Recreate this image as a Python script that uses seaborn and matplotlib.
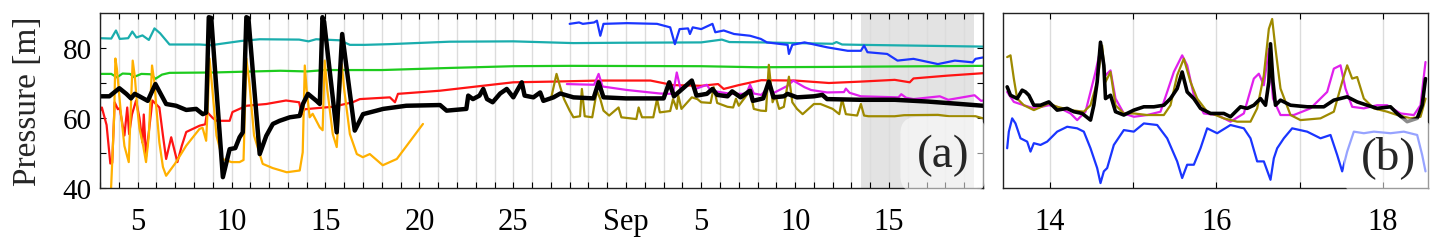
import matplotlib
matplotlib.use("Agg")
import matplotlib.pyplot as plt
import seaborn as sns

# x axis of panel (a) in days: Aug d -> d, Sep d -> 30 + d (spacing as drawn)
cyan_x = [3.0, 3.6, 3.85, 4.05, 4.5, 4.72, 4.94, 5.26, 5.6, 5.9, 6.2, 6.7, 8.3, 8.9, 10.5,
          11.5, 13.6, 14.1, 14.5, 15.76, 16.3, 17.1, 18.4, 21.6, 25.0, 28.2, 30.7, 35.0,
          36.1, 36.5, 38.2, 42.0, 42.2, 42.5, 43.5, 50.0]
cyan_y = [82.8, 82.7, 85.0, 82.6, 82.8, 84.7, 83.0, 83.6, 82.3, 85.6, 84.2, 81.0, 81.0, 80.8, 82.0,
          82.5, 82.4, 81.9, 82.5, 82.2, 80.9, 80.9, 81.1, 81.8, 81.9, 81.4, 81.5, 81.6,
          82.4, 81.7, 81.6, 81.2, 81.7, 81.0, 80.9, 80.4]

green_x = [3.0, 3.6, 3.9, 4.2, 4.6, 4.8, 5.2, 5.7, 5.95, 6.3, 6.7, 9.0, 12.6, 14.0, 15.0,
           18.0, 21.6, 25.0, 28.0, 35.0, 38.0, 42.0, 50.0]
green_y = [72.6, 72.6, 71.6, 72.7, 72.6, 71.7, 72.6, 72.5, 71.2, 72.4, 72.9, 73.0, 73.5, 73.3, 73.7,
           73.7, 74.3, 74.8, 74.9, 74.8, 74.5, 74.6, 74.9]

red_x = [3.0, 3.1, 3.35, 3.55, 3.65, 3.78, 3.95, 4.05, 4.3, 4.45, 4.55, 4.7, 4.92, 5.1, 5.26,
         5.33, 5.45, 5.79, 6.16, 6.35, 6.52, 6.79, 7.12, 7.35, 7.59, 8.3, 8.6, 8.7, 9.0, 9.2,
         9.9, 10.05, 10.8, 11.85, 12.9, 13.6, 13.74, 13.9, 14.5, 15.4, 16.45, 16.83, 18.43,
         18.7, 18.86, 21.1, 23.2, 25.0, 27.1, 29.6, 32.3, 33.5, 35.0, 35.9, 36.2, 37.0, 38.2,
         40.0, 41.8, 43.5, 45.3, 46.1, 46.3, 48.1, 50.0]
red_y = [62.0, 63.0, 58.0, 47.0, 47.2, 64.5, 62.5, 62.8, 55.0, 63.0, 55.4, 61.0, 65.0, 60.0, 53.0,
         61.0, 49.0, 65.0, 63.0, 55.0, 48.3, 54.5, 47.4, 52.0, 56.0, 57.8, 58.2, 61.7, 60.0, 59.2,
         59.2, 61.7, 63.5, 64.0, 65.0, 64.5, 61.0, 62.5, 62.8, 63.2, 64.5, 65.4, 65.9,
         64.5, 66.9, 67.8, 69.1, 70.2, 70.4, 70.7, 70.7, 69.4, 69.2, 69.7, 68.3, 69.4, 70.8,
         70.7, 70.0, 70.4, 70.9, 70.2, 71.3, 72.1, 72.8]

orange_x = [3.59, 3.75, 3.82, 3.9, 4.1, 4.3, 4.53, 4.62, 4.74, 4.85, 4.99, 5.1, 5.3, 5.45, 5.6,
            5.77, 5.9, 5.99, 6.16, 6.35, 6.52, 7.0, 7.59, 8.3, 8.46, 8.65, 8.75, 8.83, 8.95,
            9.2, 9.52, 10.0, 10.43, 10.64, 10.79, 10.95, 11.2, 11.66, 12.19, 12.94, 13.63,
            13.79, 13.9, 14.0, 14.16, 14.32, 14.7, 14.85, 14.96, 15.1, 15.39, 15.6, 15.87,
            16.0, 16.3, 16.67, 16.99, 17.36, 18.05, 18.8, 20.19]
orange_y = [40.0, 60.0, 77.0, 74.0, 62.0, 52.0, 47.4, 60.0, 76.4, 72.0, 62.6, 57.0, 52.0, 47.4, 55.0,
            75.0, 70.0, 63.5, 53.0, 46.0, 43.5, 47.0, 52.1, 56.9, 57.2, 53.5, 65.0, 77.0, 70.0,
            55.0, 48.3, 47.4, 47.4, 48.0, 77.0, 70.0, 55.0, 46.9, 45.7, 44.5, 45.0,
            50.2, 75.0, 68.0, 60.2, 61.2, 57.3, 56.5, 76.4, 68.0, 55.4, 51.7, 75.4,
            68.0, 55.4, 49.7, 48.8, 49.7, 46.5, 48.3, 58.3]

blue_x = [28.0, 28.5, 28.7, 29.3, 29.45, 29.63, 29.8, 31.05, 32.65, 33.35, 33.6, 33.85, 34.3,
          34.4, 34.55, 35.0, 35.6, 35.75, 36.2, 36.75, 37.6, 38.17, 38.5, 39.6, 39.67, 39.85,
          40.5, 41.7, 42.8, 43.5, 43.67, 43.85, 44.9, 45.45, 46.3, 47.6, 48.5, 49.45, 49.6, 50.0]
blue_y = [86.9, 87.3, 86.9, 87.3, 87.8, 83.5, 86.9, 87.1, 86.9, 85.9, 81.1, 85.4, 85.6,
          84.0, 85.9, 85.4, 86.9, 84.5, 85.0, 84.0, 83.5, 82.6, 81.6, 80.9, 78.3, 80.9,
          81.6, 80.2, 79.2, 79.2, 80.7, 78.8, 78.3, 76.4, 76.9, 75.4, 76.4, 75.9, 76.9, 77.3]

magenta_x = [27.85, 28.5, 29.3, 29.54, 29.75, 31.05, 32.8, 33.5, 33.7, 33.9, 34.5, 34.7, 35.3,
             35.5, 36.0, 36.6, 37.4, 37.6, 37.8, 38.2, 38.6, 38.8, 39.6, 39.9, 40.5, 40.85,
             41.7, 42.6, 42.7, 42.9, 43.5, 45.5, 45.65, 45.9, 46.3, 47.7, 48.15, 49.55, 49.9, 50.0]
magenta_y = [69.7, 69.6, 69.5, 72.6, 69.0, 68.0, 67.0, 66.9, 73.0, 68.3, 70.5, 68.3, 69.5,
             67.8, 67.4, 66.9, 66.9, 69.5, 67.0, 66.6, 69.0, 67.0, 69.2, 70.7, 68.8, 68.0,
             67.3, 67.4, 68.4, 67.2, 66.2, 65.9, 66.8, 65.8, 65.4, 66.2, 65.2, 66.5, 64.9, 65.0]

olive_x = [27.0, 27.3, 27.5, 27.7, 28.0, 28.2, 28.55, 28.65, 28.8, 29.2, 29.45, 29.63, 29.8,
           30.1, 30.6, 30.75, 31.55, 31.67, 31.85, 32.45, 32.65, 32.8, 33.35, 33.5, 33.7,
           33.78, 33.95, 34.5, 34.8, 35.0, 35.5, 35.67, 35.85, 36.4, 36.7, 36.85, 37.0, 37.6,
           37.8, 38.17, 38.45, 38.6, 38.8, 38.95, 39.15, 39.4, 39.67, 39.85, 40.1, 40.4, 41.0,
           41.35, 42.0, 42.35, 42.5, 42.7, 43.3, 43.5, 43.67, 43.9, 45.3, 45.8, 47.6, 48.2, 49.6, 50.0]
olive_y = [65.4, 72.6, 68.8, 65.4, 62.1, 60.2, 60.5, 68.3, 60.5, 60.2, 67.8, 65.4, 62.1,
           60.7, 63.0, 60.2, 59.7, 63.0, 60.2, 60.2, 65.4, 61.6, 62.0, 65.4, 62.6,
           66.4, 62.6, 65.9, 65.4, 64.5, 64.3, 68.8, 64.3, 63.2, 63.0, 65.5, 63.5, 67.8,
           62.6, 62.1, 62.0, 75.2, 64.5, 66.4, 62.6, 63.2, 71.8, 64.5, 62.6, 61.1, 64.0,
           64.0, 62.6, 61.1, 65.4, 61.1, 60.7, 64.0, 60.7, 60.5, 60.5, 60.8, 60.9, 60.5, 60.5, 59.9]

black_x = [3.0, 3.5, 4.03, 4.4, 4.65, 4.85, 5.1, 5.54, 5.95, 6.52, 7.05, 7.59, 8.12, 8.47, 8.65,
           8.79, 8.92, 9.54, 9.9, 10.2, 10.43, 10.6, 10.79, 10.9, 11.5, 11.85, 12.2, 12.56,
           13.1, 13.63, 13.8, 14.07, 14.52, 14.7, 14.84, 14.93, 15.6, 15.89, 16.56, 17.0,
           17.72, 18.07, 19.3, 21.1, 21.45, 22.5, 22.6, 22.85, 23.2, 23.4, 23.6, 23.9, 24.3,
           24.65, 25.0, 25.45, 25.6, 26.07, 26.43, 26.6, 27.14, 27.5, 28.2, 29.27, 29.54,
           29.8, 31.0, 33.0, 33.3, 33.55, 34.5, 34.75, 35.3, 35.6, 35.85, 36.4, 36.65, 37.1,
           37.6, 37.75, 38.3, 38.6, 38.85, 39.4, 39.6, 40.1, 41.0, 41.45, 41.7, 43.5, 45.3,
           47.05, 48.8, 50.0]
black_y = [66.2, 66.2, 68.5, 66.9, 65.6, 66.9, 66.2, 64.9, 69.7, 64.0, 63.5, 62.3, 62.6, 61.1, 61.5,
           88.8, 88.6, 43.1, 51.1, 51.4, 54.5, 55.9, 88.8, 88.5, 49.7, 54.9, 58.3, 59.2,
           60.2, 60.6, 64.0, 66.9, 64.9, 64.0, 88.8, 87.5, 55.9, 84.0, 56.4, 61.1,
           62.1, 62.6, 63.5, 63.7, 62.1, 62.6, 66.4, 65.4, 66.4, 68.3, 65.4, 64.5, 67.0,
           68.3, 65.9, 70.2, 66.4, 65.9, 67.3, 64.9, 65.9, 67.0, 65.9, 65.6, 70.2,
           65.9, 65.6, 65.6, 70.2, 66.2, 70.7, 66.4, 66.9, 68.3, 66.6, 66.2, 67.6, 65.9,
           67.8, 64.9, 65.6, 70.4, 65.9, 66.2, 66.9, 65.9, 66.2, 66.6, 65.4, 65.2, 65.2,
           64.7, 64.0, 63.5]

# ticks of panel (a)
a_ticks = [5, 10, 15, 20, 25, 31, 35, 40, 45]
a_labels = ["5", "10", "15", "20", "25", "Sep", "5", "10", "15"]
shade_span = [43.5, 49.5]

# panel (b): days of September, arbitrary vertical units
b_black_x = [13.49, 13.53, 13.61, 13.67, 13.71, 13.75, 13.81, 13.89, 13.99, 14.09, 14.21, 14.29,
             14.39, 14.49, 14.53, 14.57, 14.61, 14.65, 14.67, 14.73, 14.79, 14.89, 15.01, 15.13,
             15.25, 15.37, 15.45, 15.53, 15.59, 15.65, 15.73, 15.81, 15.93, 16.09, 16.17, 16.29,
             16.37, 16.45, 16.53, 16.59, 16.63, 16.65, 16.68, 16.71, 16.77, 16.89, 17.09, 17.29,
             17.41, 17.57, 17.69, 17.81, 17.93, 18.09, 18.17, 18.29, 18.41, 18.47, 18.51]
b_black_y = [57.8, 53.0, 51.1, 55.9, 54.9, 53.0, 47.3, 47.3, 49.2, 44.5, 45.5, 43.6,
             42.6, 38.8, 47.3, 60.6, 83.3, 70.1, 51.1, 53.0, 43.6, 41.7, 44.5, 46.4,
             46.4, 47.3, 51.1, 56.8, 66.3, 54.9, 51.1, 45.5, 42.6, 42.6, 40.7, 46.4,
             45.5, 47.3, 51.1, 47.3, 60.6, 82.4, 60.6, 47.3, 50.2, 47.3, 46.4, 46.4,
             50.2, 52.1, 49.2, 47.3, 45.5, 46.4, 42.6, 37.9, 39.8, 47.3, 62.5]

b_magenta_x = [13.49, 13.57, 13.69, 13.81, 13.99, 14.09, 14.25, 14.33, 14.43, 14.49, 14.55, 14.61,
               14.67, 14.73, 14.79, 14.89, 15.01, 15.17, 15.33, 15.41, 15.49, 15.59, 15.65, 15.73,
               15.85, 16.01, 16.17, 16.33, 16.45, 16.51, 16.57, 16.63, 16.68, 16.77, 16.93, 17.13,
               17.33, 17.41, 17.49, 17.55, 17.63, 17.77, 17.93, 18.05, 18.21, 18.37, 18.45, 18.51]
b_magenta_y = [54.9, 49.2, 47.3, 45.5, 47.3, 46.4, 42.6, 38.8, 43.6, 54.9, 66.3, 79.5,
               64.4, 67.2, 51.1, 42.6, 40.7, 41.7, 43.6, 54.9, 66.3, 75.8, 70.1, 53.0,
               42.6, 41.7, 37.9, 42.6, 62.5, 65.3, 58.7, 79.5, 51.1, 41.7, 41.7, 45.5,
               54.9, 68.2, 70.1, 56.8, 46.4, 45.5, 47.3, 47.3, 42.6, 41.7, 47.3, 72.0]

b_olive_x = [13.49, 13.53, 13.57, 13.61, 13.69, 13.81, 13.99, 14.09, 14.25, 14.41, 14.49, 14.57,
             14.63, 14.67, 14.73, 14.79, 14.89, 15.01, 15.17, 15.37, 15.45, 15.53, 15.61, 15.69,
             15.77, 15.89, 16.09, 16.25, 16.41, 16.49, 16.57, 16.63, 16.67, 16.71, 16.77, 16.89,
             17.01, 17.25, 17.41, 17.51, 17.57, 17.63, 17.69, 17.77, 17.89, 18.05, 18.17, 18.33,
             18.45, 18.51]
b_olive_y = [74.8, 75.8, 62.5, 51.1, 47.3, 44.5, 48.3, 46.4, 44.5, 43.6, 47.3, 60.6,
             81.4, 60.6, 66.3, 47.3, 42.6, 42.6, 41.7, 41.7, 47.3, 64.4, 73.9, 60.6,
             51.1, 43.6, 39.8, 37.9, 37.9, 45.5, 64.4, 90.9, 96.6, 79.5, 56.8, 41.7,
             38.8, 39.8, 43.6, 60.6, 70.1, 62.5, 63.4, 51.1, 45.5, 43.6, 41.7, 39.8,
             40.7, 51.1]

b_blue_x = [13.49, 13.51, 13.55, 13.59, 13.65, 13.73, 13.77, 13.81, 13.89, 13.97, 14.09, 14.21,
            14.33, 14.41, 14.49, 14.57, 14.61, 14.65, 14.69, 14.77, 14.89, 15.01, 15.13, 15.29,
            15.41, 15.53, 15.59, 15.65, 15.73, 15.81, 15.89, 16.01, 16.17, 16.33, 16.41, 16.49,
            16.57, 16.65, 16.69, 16.73, 16.81, 16.91, 17.09, 17.25, 17.37, 17.45, 17.51, 17.57,
            17.65, 17.77, 17.89, 18.09, 18.25, 18.41, 18.47, 18.51]
b_blue_y = [22.7, 32.2, 39.8, 36.9, 28.4, 26.5, 20.8, 25.6, 24.6, 26.5, 32.2, 35.0,
            34.1, 32.2, 22.7, 11.4, 2.8, 9.5, 11.4, 24.6, 33.1, 32.2, 36.9, 36.0,
            28.4, 15.2, 5.7, 13.3, 13.3, 22.7, 34.1, 31.3, 36.0, 34.1, 28.4, 15.2,
            15.2, 4.7, 17.0, 22.7, 28.4, 34.1, 32.2, 28.4, 30.3, 18.9, 9.5, 20.8,
            32.2, 31.3, 32.2, 31.3, 32.2, 30.3, 18.9, 9.5]

b_ticks = [14, 15, 16, 17, 18]
b_labels = ["14", "", "16", "", "18"]

COLORS = {
    "cyan": "#1aadad",
    "green": "#1ecb1e",
    "red": "#ff1414",
    "orange": "#ffb000",
    "blue": "#1a35ff",
    "magenta": "#e020ec",
    "olive": "#9e8a00",
    "black": "#000000",
}

sns.set_style("ticks")
plt.rcParams["font.family"] = ["Liberation Serif", "DejaVu Serif"]
plt.rcParams["axes.linewidth"] = 1.0

fig = plt.figure(figsize=(14.41, 2.51), dpi=100)
ax1 = fig.add_axes([100 / 1441, 62 / 251, 883 / 1441, 175 / 251])
ax2 = fig.add_axes([1003 / 1441, 62 / 251, 425 / 1441, 175 / 251])

# halo behind the panel letters
halo = dict(facecolor="white", edgecolor="none", alpha=0.55, boxstyle="round,pad=0.35")

# ---- panel (a)
ax1.axvspan(shade_span[0], shade_span[1], color="#e3e3e3", lw=0, zorder=0)
for xs, ys, c, lw in [
    (cyan_x, cyan_y, "cyan", 1.6),
    (green_x, green_y, "green", 1.6),
    (red_x, red_y, "red", 1.6),
    (orange_x, orange_y, "orange", 1.6),
    (blue_x, blue_y, "blue", 1.6),
    (magenta_x, magenta_y, "magenta", 1.6),
    (olive_x, olive_y, "olive", 1.6),
    (black_x, black_y, "black", 3.2),
]:
    sns.lineplot(x=xs, y=ys, color=COLORS[c], lw=lw, ax=ax1, estimator=None, sort=False)

ax1.set_xlim(3, 50)
ax1.set_ylim(40, 90)
days = list(range(3, 51))
ax1.set_xticks(days)
ax1.set_xticklabels([a_labels[a_ticks.index(d)] if d in a_ticks else "" for d in days])
ax1.set_yticks([40, 50, 60, 70, 80])
ax1.set_yticklabels(["40", "", "60", "", "80"])
ax1.tick_params(axis="x", direction="in", length=4.5, width=0.8, top=True,
                labelsize=22, pad=14, colors="black")
ax1.tick_params(axis="y", direction="in", length=4.5, width=0.8, right=True,
                labelsize=21, pad=6, colors="black")
ax1.grid(axis="x", color="#dcdcdc", lw=1.0)
ax1.set_axisbelow(True)
ax1.set_ylabel("Pressure [m]", fontsize=24)
ax1.yaxis.set_label_coords(-0.064, 0.5)
ax1.text(0.955, 0.19, "(a)", transform=ax1.transAxes, fontsize=34, ha="center", va="center",
         bbox=halo)

# ---- panel (b)
for xs, ys, c, lw in [
    (b_blue_x, b_blue_y, "blue", 1.6),
    (b_magenta_x, b_magenta_y, "magenta", 1.6),
    (b_olive_x, b_olive_y, "olive", 1.6),
    (b_black_x, b_black_y, "black", 2.6),
]:
    sns.lineplot(x=xs, y=ys, color=COLORS[c], lw=lw, ax=ax2, estimator=None, sort=False)

ax2.set_xlim(13.44, 18.54)
ax2.set_ylim(0, 100)
ax2.set_xticks(b_ticks)
ax2.set_xticklabels(b_labels)
ax2.set_yticks([])
ax2.tick_params(axis="x", direction="in", length=4.5, width=0.8, top=True,
                labelsize=22, pad=14, colors="black")
ax2.grid(axis="x", color="#dcdcdc", lw=1.0)
ax2.set_axisbelow(True)
ax2.set_ylabel("")
ax2.text(0.906, 0.18, "(b)", transform=ax2.transAxes, fontsize=34, ha="center", va="center",
         bbox=halo)

for ax in (ax1, ax2):
    for s in ax.spines.values():
        s.set_visible(True)
        s.set_color("#222222")

fig.savefig("out.png", dpi=100)
